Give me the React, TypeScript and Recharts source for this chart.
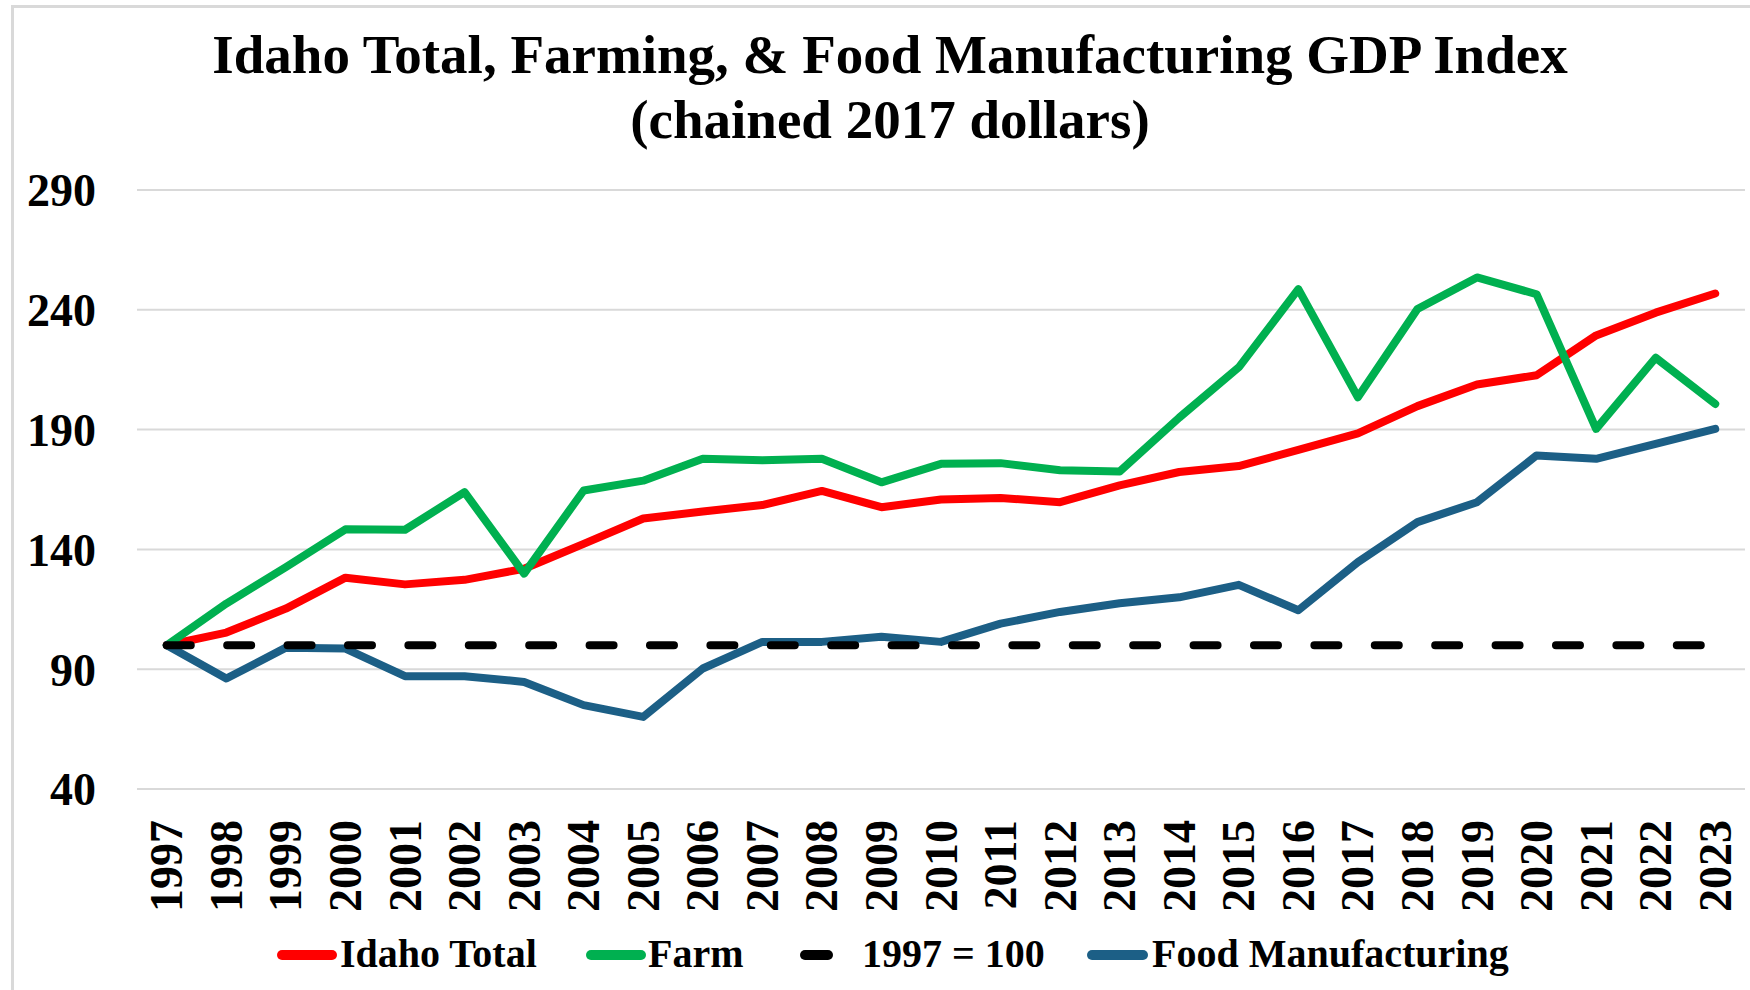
import React from "react";
import { LineChart, Line, XAxis, YAxis, CartesianGrid } from "recharts";

const years = [1997, 1998, 1999, 2000, 2001, 2002, 2003, 2004, 2005, 2006, 2007, 2008, 2009, 2010, 2011, 2012, 2013, 2014, 2015, 2016, 2017, 2018, 2019, 2020, 2021, 2022, 2023];

const idahoTotal = [100, 105.3, 115.3, 128.2, 125.4, 127.3, 131.9, 142.3, 152.9, 155.8, 158.5, 164.4, 157.6, 160.8, 161.5, 159.7, 166.7, 172.3, 174.8, 181.5, 188.4, 199.8, 208.8, 212.7, 229.3, 238.8, 246.8];

const farm = [100, 117.4, 132.6, 148.4, 148.2, 163.9, 129.9, 164.6, 168.7, 177.8, 177.2, 177.8, 168.0, 175.7, 176.0, 173.0, 172.5, 195.0, 216.0, 248.6, 203.5, 240.3, 253.5, 246.5, 190.3, 220.0, 200.7];

const baseline1997 = [100, 100, 100, 100, 100, 100, 100, 100, 100, 100, 100, 100, 100, 100, 100, 100, 100, 100, 100, 100, 100, 100, 100, 100, 100, 100, 100];

const foodManufacturing = [100, 86.1, 99.0, 98.6, 87.1, 87.1, 84.7, 75.0, 70.1, 90.3, 101.4, 101.4, 103.5, 101.4, 109.0, 113.9, 117.5, 120.0, 125.2, 114.6, 134.7, 151.4, 159.7, 179.2, 177.8, 184.0, 190.3];

const yTicks = [40, 90, 140, 190, 240, 290];

const titleLines = ["Idaho Total, Farming, & Food Manufacturing GDP Index", "(chained 2017 dollars)"];

const seriesNames = ["Idaho Total", "Farm", "1997 = 100", "Food Manufacturing"];

const data = years.map((year, i) => ({
  year,
  idahoTotal: idahoTotal[i],
  farm: farm[i],
  baseline: baseline1997[i],
  food: foodManufacturing[i],
}));

const FONT = "'Liberation Serif', 'Times New Roman', serif";
const RED = "#FF0000";
const GREEN = "#00B050";
const BLUE = "#1C5F86";
const BLACK = "#000000";

const XTick = (props: any) => {
  const { x, y, payload } = props;
  return (
    <text
      x={x}
      y={y}
      transform={`rotate(-90 ${x} ${y})`}
      textAnchor="end"
      dominantBaseline="central"
      fontSize={46}
      fontWeight={700}
      fontFamily={FONT}
      fill="#000"
    >
      {payload.value}
    </text>
  );
};

const legendLayout = [
  { color: RED, x1: 277, x2: 337, tx: 340, dashed: false },
  { color: GREEN, x1: 586, x2: 646, tx: 648, dashed: false },
  { color: BLACK, x1: 800, x2: 833, tx: 862, dashed: true },
  { color: BLUE, x1: 1087, x2: 1148, tx: 1152, dashed: false },
];

const LegendBar = () => (
  <svg
    width={1750}
    height={70}
    style={{ position: "absolute", left: 0, top: 920 }}
  >
    {seriesNames.map((name, i) => {
      const l = legendLayout[i];
      return (
        <g key={name}>
          <line
            x1={l.x1 + 5}
            x2={l.x2 - 5}
            y1={35}
            y2={35}
            stroke={l.color}
            strokeWidth={10}
            strokeLinecap="round"
          />
          <text
            x={l.tx}
            y={47}
            fontSize={40}
            fontWeight={700}
            fontFamily={FONT}
            fill="#000"
          >
            {name}
          </text>
        </g>
      );
    })}
  </svg>
);

export default function App() {
  return (
    <div
      style={{
        position: "absolute",
        left: 0,
        top: 0,
        width: 1750,
        height: 990,
        background: "#fff",
        overflow: "hidden",
      }}
    >
      <div
        style={{
          position: "absolute",
          left: 11,
          top: 5,
          width: 1800,
          height: 1100,
          borderLeft: "3px solid #d9d9d9",
          borderTop: "3px solid #d9d9d9",
        }}
      />
      <div
        style={{
          position: "absolute",
          left: 0,
          top: 22,
          width: 1780,
          textAlign: "center",
          fontFamily: FONT,
          fontWeight: 700,
          fontSize: 55,
          lineHeight: "65px",
          color: "#000",
        }}
      >
        {titleLines.map((t) => (
          <div key={t}>{t}</div>
        ))}
      </div>
      <div style={{ position: "absolute", left: 0, top: 0 }}>
        <LineChart
          width={1750}
          height={990}
          data={data}
          margin={{ top: 190, right: 5, bottom: 101, left: 37 }}
        >
          <CartesianGrid vertical={false} stroke="#d9d9d9" strokeWidth={2} />
          <XAxis
            dataKey="year"
            type="number"
            domain={[1996.5, 2023.5]}
            ticks={years}
            interval={0}
            height={100}
            axisLine={false}
            tickLine={false}
            tickSize={0}
            tickMargin={31}
            tick={<XTick />}
          />
          <YAxis
            type="number"
            domain={[40, 290]}
            ticks={yTicks}
            interval={0}
            width={100}
            axisLine={false}
            tickLine={false}
            tickSize={0}
            tickMargin={41}
            tick={{ fontSize: 46, fontWeight: 700, fill: "#000", fontFamily: FONT }}
          />
          <Line
            dataKey="idahoTotal"
            stroke={RED}
            strokeWidth={8}
            dot={false}
            strokeLinecap="round"
            strokeLinejoin="round"
            isAnimationActive={false}
          />
          <Line
            dataKey="farm"
            stroke={GREEN}
            strokeWidth={8}
            dot={false}
            strokeLinecap="round"
            strokeLinejoin="round"
            isAnimationActive={false}
          />
          <Line
            dataKey="food"
            stroke={BLUE}
            strokeWidth={8}
            dot={false}
            strokeLinecap="round"
            strokeLinejoin="round"
            isAnimationActive={false}
          />
          <Line
            dataKey="baseline"
            stroke={BLACK}
            strokeWidth={8}
            strokeDasharray="24 36.4"
            dot={false}
            strokeLinecap="round"
            isAnimationActive={false}
          />
        </LineChart>
      </div>
      <LegendBar />
    </div>
  );
}
